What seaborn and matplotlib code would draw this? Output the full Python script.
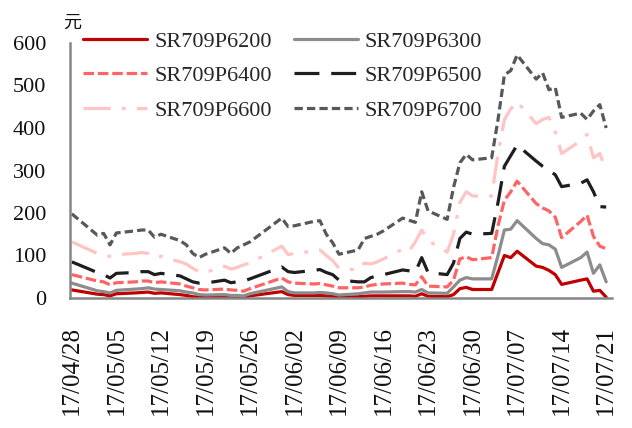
import numpy as np
import pandas as pd
import matplotlib
matplotlib.use("Agg")
import matplotlib.pyplot as plt
import seaborn as sns

# Trading days, 2017-04-28 .. 2017-07-21
trade_dates = [
    "2017-04-28",
    "2017-05-02", "2017-05-03", "2017-05-04", "2017-05-05",
    "2017-05-08", "2017-05-09", "2017-05-10", "2017-05-11", "2017-05-12",
    "2017-05-15", "2017-05-16", "2017-05-17", "2017-05-18", "2017-05-19",
    "2017-05-22", "2017-05-23", "2017-05-24", "2017-05-25", "2017-05-26",
    "2017-05-31", "2017-06-01", "2017-06-02",
    "2017-06-05", "2017-06-06", "2017-06-07", "2017-06-08", "2017-06-09",
    "2017-06-12", "2017-06-13", "2017-06-14", "2017-06-15", "2017-06-16",
    "2017-06-19", "2017-06-20", "2017-06-21", "2017-06-22", "2017-06-23",
    "2017-06-26", "2017-06-27", "2017-06-28", "2017-06-29", "2017-06-30",
    "2017-07-03", "2017-07-04", "2017-07-05", "2017-07-06", "2017-07-07",
    "2017-07-10", "2017-07-11", "2017-07-12", "2017-07-13", "2017-07-14",
    "2017-07-17", "2017-07-18", "2017-07-19", "2017-07-20", "2017-07-21",
]

# Option prices (yuan)
p6200 = [19, 9, 8, 5, 10, 12, 13, 14, 11, 12, 8, 6, 3, 2, 1, 2, 1, 1, 1, 5,
         15, 8, 6, 6, 6, 5, 4, 2, 3, 4, 5, 5, 5, 5, 5, 4, 10, 4, 3, 8,
         22, 25, 20, 20, 60, 100, 95, 110, 75, 72, 65, 55, 32, 42, 45, 16, 18, 2]
p6300 = [35, 17, 15, 12, 18, 21, 22, 24, 21, 20, 17, 14, 12, 8, 7, 8, 6, 6, 5, 10,
         26, 15, 12, 12, 13, 12, 10, 7, 10, 12, 14, 14, 14, 15, 15, 14, 20, 12, 11, 26,
         42, 48, 45, 45, 100, 160, 162, 182, 140, 128, 125, 115, 72, 95, 108, 58, 78, 38]
p6400 = [55, 40, 38, 31, 36, 38, 40, 40, 36, 38, 33, 28, 24, 20, 19, 21, 19, 18, 16, 22,
         47, 38, 35, 33, 34, 31, 28, 24, 24, 26, 30, 32, 33, 35, 32, 31, 50, 28, 26, 42,
         92, 97, 90, 95, 170, 230, 250, 275, 222, 212, 205, 190, 142, 180, 195, 145, 122, 116]
p6500 = [85, 60, 55, 47, 58, 60, 62, 62, 55, 58, 52, 45, 38, 35, 35, 42, 36, 38, 40, 45,
         73, 62, 60, 65, 67, 60, 55, 42, 38, 38, 48, 52, 55, 66, 64, 61, 95, 60, 55, 82,
         140, 155, 150, 152, 225, 310, 335, 360, 322, 310, 300, 290, 262, 270, 278, 250, 215, 214]
p6600 = [132, 105, 100, 98, 102, 105, 107, 105, 95, 98, 85, 80, 70, 62, 60, 75, 68, 72, 78, 82,
         122, 102, 105, 110, 113, 100, 88, 70, 66, 82, 80, 85, 92, 115, 110, 132, 160, 135, 108, 150,
         225, 250, 240, 240, 340, 420, 445, 462, 410, 420, 425, 390, 340, 370, 385, 330, 340, 300]
p6700 = [198, 148, 152, 125, 153, 158, 160, 160, 143, 150, 135, 125, 105, 95, 103, 118, 105, 118, 125, 132,
         188, 168, 170, 180, 182, 150, 130, 103, 113, 140, 145, 150, 158, 188, 183, 178, 250, 205, 185, 260,
         318, 338, 325, 330, 420, 525, 535, 572, 515, 530, 490, 495, 425, 435, 420, 440, 455, 400]

series_names = ["SR709P6200", "SR709P6300", "SR709P6400",
                "SR709P6500", "SR709P6600", "SR709P6700"]
series_values = [p6200, p6300, p6400, p6500, p6600, p6700]

tick_dates = ["2017-04-28", "2017-05-05", "2017-05-12", "2017-05-19", "2017-05-26",
              "2017-06-02", "2017-06-09", "2017-06-16", "2017-06-23", "2017-06-30",
              "2017-07-07", "2017-07-14", "2017-07-21"]
tick_labels = ["17/04/28", "17/05/05", "17/05/12", "17/05/19", "17/05/26",
               "17/06/02", "17/06/09", "17/06/16", "17/06/23", "17/06/30",
               "17/07/07", "17/07/14", "17/07/21"]
y_ticks = [0, 100, 200, 300, 400, 500, 600]

colors = {
    "SR709P6200": "#C00000",
    "SR709P6300": "#8C8C8C",
    "SR709P6400": "#FF6464",
    "SR709P6500": "#1E1E1E",
    "SR709P6600": "#FFC4C4",
    "SR709P6700": "#585858",
}
dashes = {
    "SR709P6200": "",
    "SR709P6300": "",
    "SR709P6400": (3.3, 1.2),
    "SR709P6500": (7.8, 3.7),
    "SR709P6600": (8.5, 3.5, 1.2, 3.5),
    "SR709P6700": (2.6, 1.3),
}

dates = pd.to_datetime(trade_dates)
df = pd.concat(
    [pd.DataFrame({"date": dates, "value": vals, "series": name})
     for name, vals in zip(series_names, series_values)],
    ignore_index=True,
)

sns.set_theme(style="white")
plt.rcParams["font.family"] = ["Liberation Serif", "Noto Sans CJK SC"]

fig = plt.figure(figsize=(6.32, 4.28), dpi=100)
ax = fig.add_axes([70 / 632, 1 - 298 / 428, 542 / 632, 255 / 428])

sns.lineplot(data=df, x="date", y="value", hue="series", style="series",
             hue_order=series_names, style_order=series_names,
             palette=colors, dashes=dashes, linewidth=2.3, ax=ax, legend=True)

# legend: two columns, rows read 6200/6300, 6400/6500, 6600/6700
leg = ax.get_legend()
handles = list(leg.legend_handles)
labels = [t.get_text() for t in leg.get_texts()]
leg.remove()
order = [0, 2, 4, 1, 3, 5]
handles = [handles[i] for i in order]
labels = [labels[i] for i in order]
for h in handles:
    h.set_linewidth(2.3)
fig.legend(handles, labels, ncol=2, loc="upper left",
           bbox_to_anchor=(83 / 632, 1 - 31 / 428), frameon=False,
           fontsize=16, handlelength=2.9, handletextpad=0.3,
           columnspacing=1.0, labelspacing=0.63, borderpad=0, borderaxespad=0)

t0 = pd.Timestamp(tick_dates[0])
t1 = pd.Timestamp(tick_dates[-1])
ax.set_xlim(t0 - pd.Timedelta(hours=7), t1 + pd.Timedelta(hours=22))
ax.set_ylim(0, 600)
ax.set_xticks(pd.to_datetime(tick_dates))
ax.set_xticklabels(tick_labels, rotation=90, fontsize=18)
ax.set_yticks(y_ticks)
ax.set_yticklabels([str(v) for v in y_ticks], fontsize=16)
ax.set_xlabel("")
ax.set_ylabel("")

for side in ["top", "right"]:
    ax.spines[side].set_visible(False)
for side in ["left", "bottom"]:
    ax.spines[side].set_color("#868686")
    ax.spines[side].set_linewidth(1.8)
ax.tick_params(axis="both", direction="in", length=4, width=1.3,
               color="#868686", labelcolor="#111111")
ax.tick_params(axis="y", pad=17)
ax.tick_params(axis="x", pad=20)

fig.text(72 / 632, 1 - 23 / 428, "元", fontsize=13, ha="center", va="center",
         family=["Noto Sans CJK SC", "DejaVu Sans"], color="#111111")

fig.savefig("out.png", dpi=100)
